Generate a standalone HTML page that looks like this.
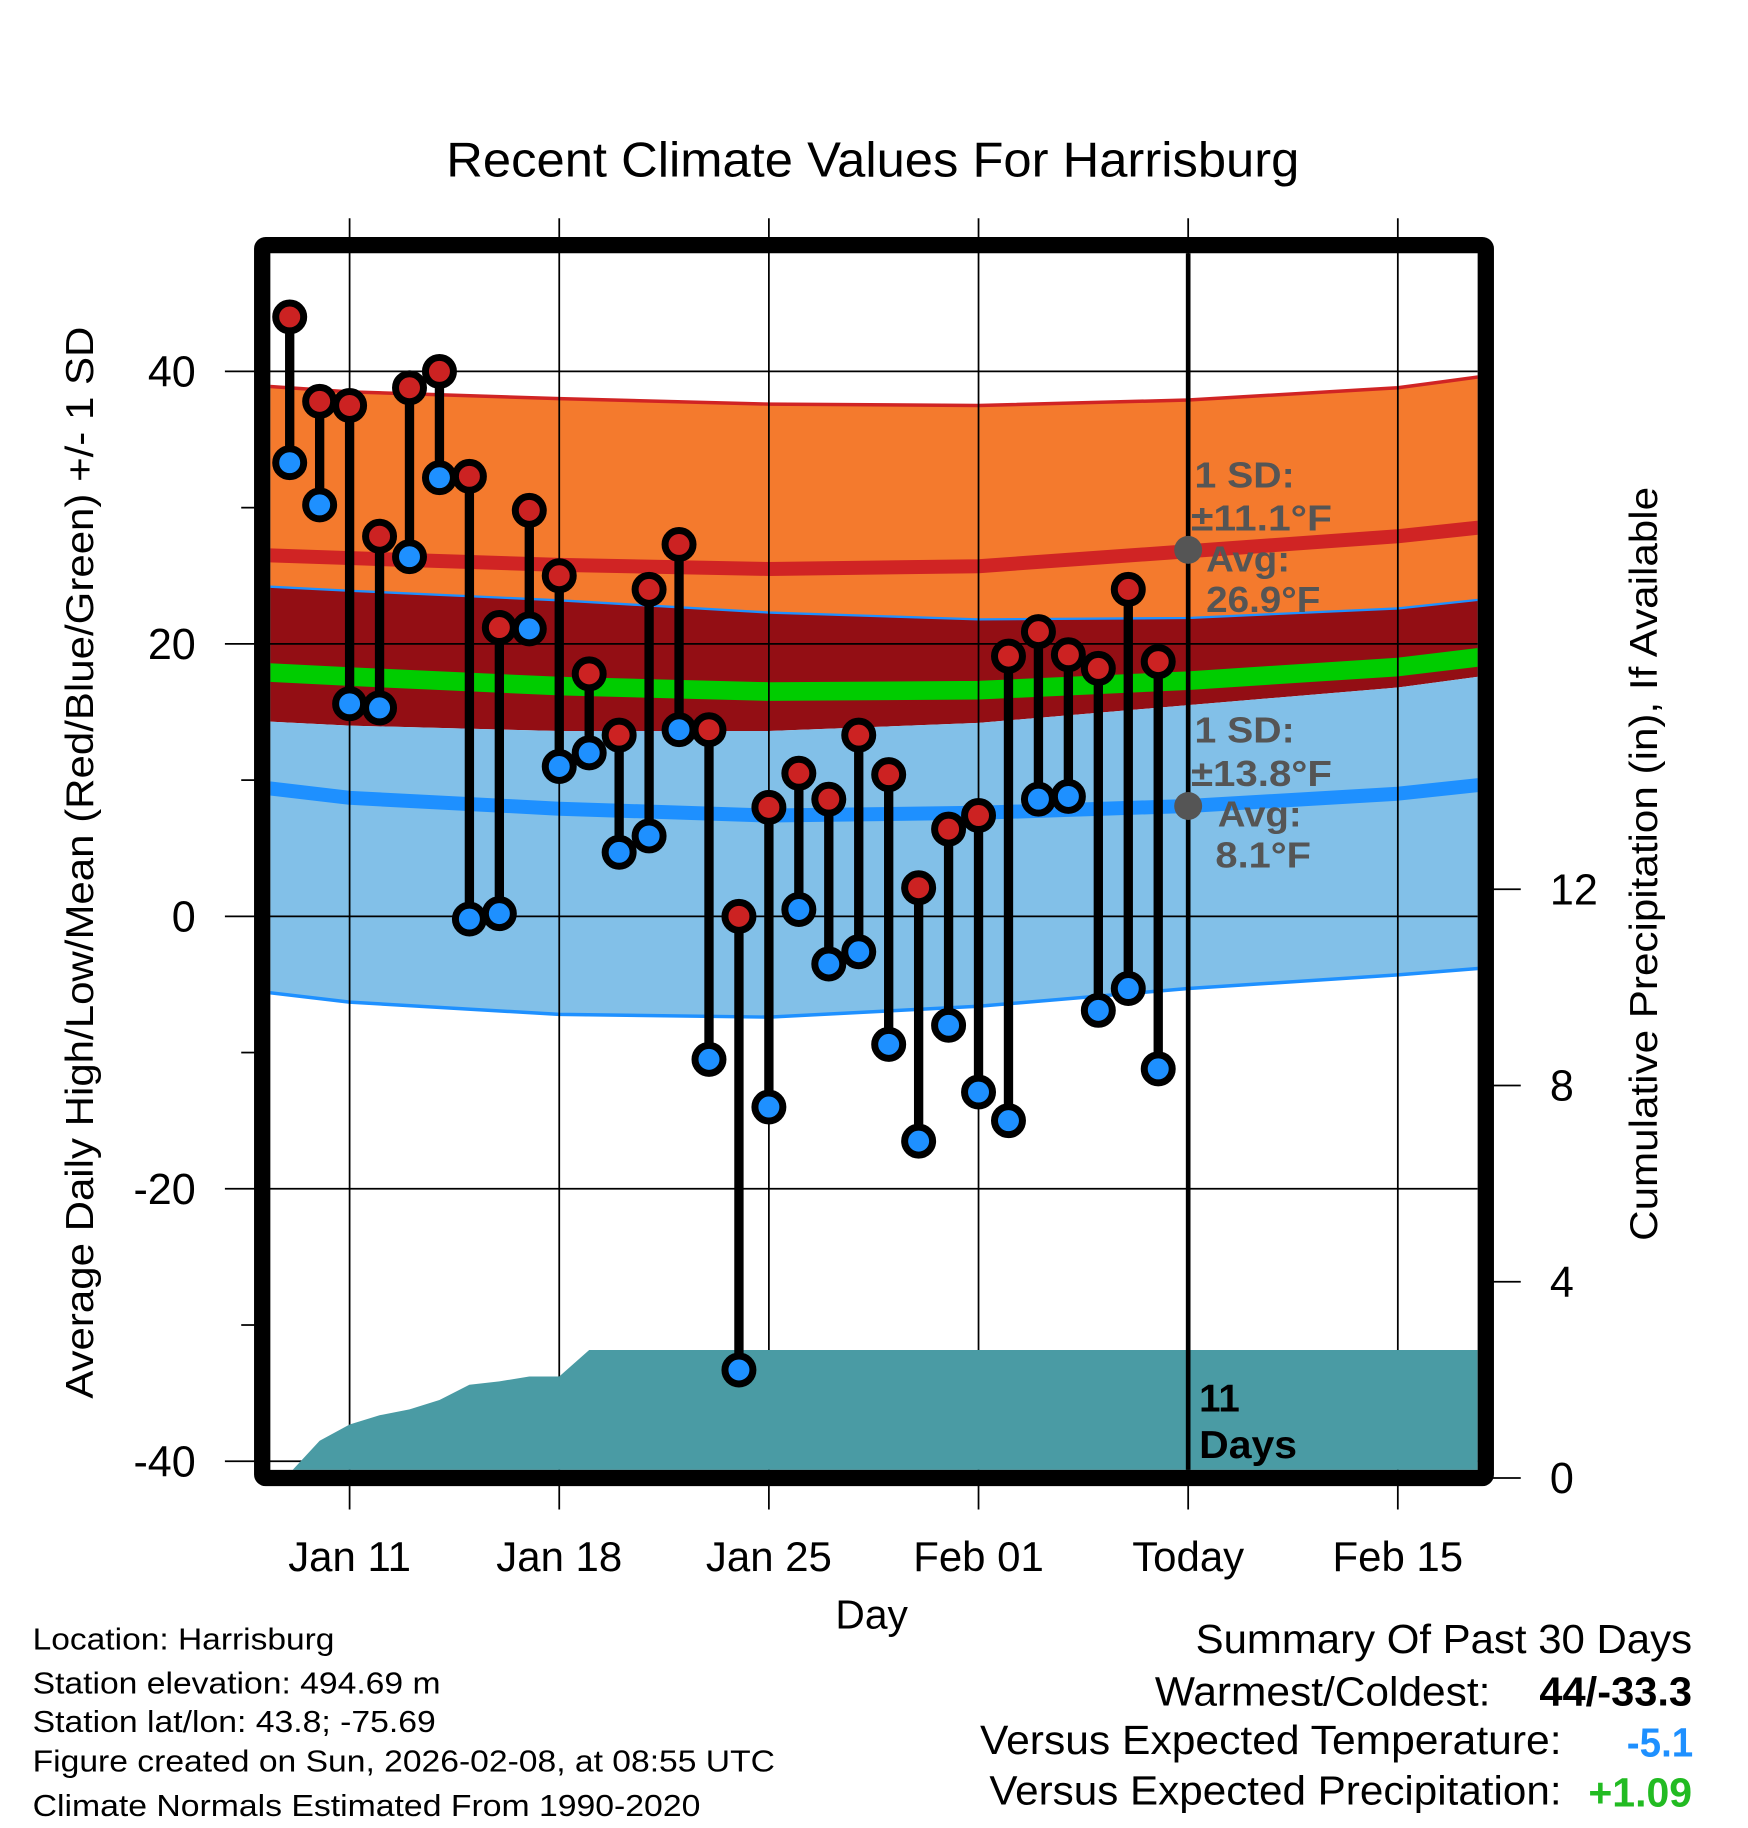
<!DOCTYPE html>
<html><head><meta charset="utf-8"><style>
html,body{margin:0;padding:0;background:#fff}
svg{display:block}
text{font-family:"Liberation Sans",sans-serif}
</style></head><body>
<svg id="chart" width="1748" height="1828" viewBox="0 0 1500 1568" xmlns="http://www.w3.org/2000/svg">
<defs><clipPath id="plotclip"><rect x="232" y="217" width="1036" height="1044"/></clipPath></defs>
<rect width="1500" height="1568" fill="#fff"/>
<text x="749" y="151" font-size="42" text-anchor="middle" textLength="732" lengthAdjust="spacingAndGlyphs">Recent Climate Values For Harrisburg</text>
<g id="bands" clip-path="url(#plotclip)"></g>
<g id="grid"></g>
<g id="precip" clip-path="url(#plotclip)"></g>
<g id="marks"></g>
<g id="frame"></g>
<g id="labels"></g>
<text transform="translate(80,740) rotate(-90)" font-size="33" text-anchor="middle" textLength="920" lengthAdjust="spacingAndGlyphs">Average Daily High/Low/Mean (Red/Blue/Green) +/- 1 SD</text>
<text transform="translate(1422,741) rotate(-90)" font-size="33" text-anchor="middle" textLength="647" lengthAdjust="spacingAndGlyphs">Cumulative Precipitation (in), If Available</text>
<text x="748" y="1397" font-size="35" text-anchor="middle">Day</text>
<g font-size="26">
<text x="28" y="1415" textLength="259" lengthAdjust="spacingAndGlyphs">Location: Harrisburg</text>
<text x="28" y="1453" textLength="350" lengthAdjust="spacingAndGlyphs">Station elevation: 494.69 m</text>
<text x="28" y="1486" textLength="346" lengthAdjust="spacingAndGlyphs">Station lat/lon: 43.8; -75.69</text>
<text x="28" y="1520" textLength="637" lengthAdjust="spacingAndGlyphs">Figure created on Sun, 2026-02-08, at 08:55 UTC</text>
<text x="28" y="1558" textLength="573" lengthAdjust="spacingAndGlyphs">Climate Normals Estimated From 1990-2020</text>
</g>
<g font-size="35">
<text x="1026" y="1418" textLength="426" lengthAdjust="spacingAndGlyphs">Summary Of Past 30 Days</text>
<text x="991" y="1463" textLength="288" lengthAdjust="spacingAndGlyphs">Warmest/Coldest:</text>
<text x="1321" y="1463" font-weight="bold" textLength="131" lengthAdjust="spacingAndGlyphs">44/-33.3</text>
<text x="841" y="1505" textLength="499" lengthAdjust="spacingAndGlyphs">Versus Expected Temperature:</text>
<text x="1396" y="1507" font-weight="bold" fill="#1e90ff" textLength="57" lengthAdjust="spacingAndGlyphs">-5.1</text>
<text x="849" y="1548" textLength="491" lengthAdjust="spacingAndGlyphs">Versus Expected Precipitation:</text>
<text x="1363" y="1550" font-weight="bold" fill="#22bb22" textLength="89" lengthAdjust="spacingAndGlyphs">+1.09</text>
</g>
</svg>
<script>
// ---- data ----
const dayNums = [-2,-1,0,1,2,3,4,5,6,7,8,9,10,11,12,13,14,15,16,17,18,19,20,21,22,23,24,25,26,27];
const highs = [44,37.8,37.5,27.9,38.8,40,32.3,21.2,29.8,25,17.8,13.3,24,27.3,13.7,0,8,10.5,8.6,13.3,10.4,2.1,6.4,7.4,19.1,20.9,19.2,18.2,24,18.7];
const lows = [33.3,30.2,15.6,15.3,26.4,32.2,-0.2,0.2,21.1,11,12,4.7,5.9,13.7,-10.5,-33.3,-14,0.5,-3.5,-2.6,-9.4,-16.5,-8,-12.9,-15,8.6,8.8,-6.9,-5.3,-11.2];
const precip = [0.1,0.76,1.09,1.28,1.4,1.59,1.9,1.97,2.07,2.07,2.61,2.61,2.61,2.61,2.61,2.61,2.61,2.61,2.61,2.61,2.61,2.61,2.61,2.61,2.61,2.61,2.61,2.61,2.61,2.61];
const normDays = [-2.7,0,7,14,21,28,35,38.4];
const highUpper = [38.9,38.5,38.0,37.6,37.5,37.9,38.8,39.8];
const highMean = [26.5,26.3,25.8,25.5,25.7,26.8,27.9,28.7];
const lowUpper = [24.2,23.9,23.2,22.3,21.8,21.9,22.6,23.4];
const meanTemp = [17.9,17.6,16.9,16.5,16.6,17.3,18.3,19.2];
const highLower = [14.3,14.0,13.6,13.6,14.2,15.5,16.8,17.8];
const lowMean = [9.4,8.7,7.9,7.4,7.6,8.1,9.0,9.8];
const lowLower = [-5.6,-6.3,-7.2,-7.4,-6.6,-5.3,-4.3,-3.7];
const yTicks = [40,20,0,-20,-40];
const yMinor = [30,10,-10,-30];
const pTicks = [0,4,8,12];
const xTickDays = [0,7,14,21,28,35];
const xTickLabels = ["Jan 11","Jan 18","Jan 25","Feb 01","Today","Feb 15"];
const todayDay = 28;
const todayHighAvg = 26.9, todayLowAvg = 8.1;

// ---- scales ----
const xs = d => 300 + d*25.7;
const ys = v => 786 - v*11.69;
const yp = p => 1268 - p*42.1;
const NS = "http://www.w3.org/2000/svg";
function mk(tag, parent, attrs){const e=document.createElementNS(NS,tag);for(const k in attrs)e.setAttribute(k,attrs[k]);document.getElementById(parent).appendChild(e);return e;}
function line(arr){return normDays.map((d,i)=>xs(d)+","+ys(arr[i])).join(" ");}
function band(top,bot){return normDays.map((d,i)=>xs(d)+","+ys(top[i])).concat(normDays.slice().reverse().map((d,j)=>{const i=normDays.length-1-j;return xs(d)+","+ys(bot[i]);})).join(" ");}

let e;
e=mk("polygon","bands",{points:band(highUpper,lowUpper),fill:"#f47a2d"});

e=mk("polygon","bands",{points:band(lowUpper,highLower),fill:"#930e14"});

e=mk("polygon","bands",{points:band(highLower,lowLower),fill:"#82c0e8"});

const lines=[[highUpper,"#d02424",3,'high-upper-line'],[highMean,"#d02424",12,'high-mean-line'],[lowUpper,"#1e90ff",2,'low-upper-line'],[meanTemp,"#00cc00",16,'mean-line'],[highLower,"#1e90ff",0,'high-lower-line'],[lowMean,"#1e90ff",12,'low-mean-line'],[lowLower,"#1e90ff",3,'low-lower-line']];
lines.forEach(l=>{if(!l[2])return;e=mk("polyline","bands",{points:line(l[0]),fill:"none",stroke:l[1],"stroke-width":l[2],"stroke-linejoin":"round"});

});

// grid
yTicks.forEach(v=>{e=mk("line","grid",{x1:193,x2:1268,y1:ys(v),y2:ys(v),stroke:"#000","stroke-width":1.5});


e=mk("text","labels",{x:168,y:ys(v)+13,"font-size":37,"text-anchor":"end"});e.textContent=v;

});
yMinor.forEach(v=>{e=mk("line","grid",{x1:207,x2:220,y1:ys(v),y2:ys(v),stroke:"#000","stroke-width":1.5});

});
xTickDays.forEach((d,i)=>{e=mk("line","grid",{x1:xs(d),x2:xs(d),y1:187,y2:1295,stroke:"#000","stroke-width":1.5});


e=mk("text","labels",{x:xs(d),y:1348,"font-size":36,"text-anchor":"middle"});e.textContent=xTickLabels[i];

});
pTicks.forEach(p=>{e=mk("line","grid",{x1:1280,x2:1305,y1:yp(p),y2:yp(p),stroke:"#000","stroke-width":1.5});


e=mk("text","labels",{x:1330,y:yp(p)+13,"font-size":37});e.textContent=p;

});

// precip area
let pts=[xs(dayNums[0])-10+","+1268];
dayNums.forEach((d,i)=>pts.push(xs(d)+","+yp(precip[i])));
pts.push("1268,"+yp(precip[precip.length-1]));pts.push("1268,1268");
e=mk("polygon","precip",{points:pts.join(" "),fill:"#4a9ba4"});



// today line
e=mk("line","marks",{x1:xs(todayDay),x2:xs(todayDay),y1:217,y2:1261,stroke:"#000","stroke-width":4});


e=mk("circle","marks",{cx:xs(todayDay),cy:ys(todayHighAvg),r:12,fill:"#555"});


e=mk("circle","marks",{cx:xs(todayDay),cy:ys(todayLowAvg),r:12,fill:"#555"});



// stems and markers
dayNums.forEach((d,i)=>{e=mk("line","marks",{x1:xs(d),x2:xs(d),y1:ys(highs[i]),y2:ys(lows[i]),stroke:"#000","stroke-width":8});

});
dayNums.forEach((d,i)=>{
e=mk("circle","marks",{cx:xs(d),cy:ys(lows[i]),r:12,fill:"#1e90ff",stroke:"#000","stroke-width":6});


e=mk("circle","marks",{cx:xs(d),cy:ys(highs[i]),r:12,fill:"#cc2222",stroke:"#000","stroke-width":6});

});

// frame
e=mk("rect","frame",{x:225,y:210,width:1050,height:1058,fill:"none",stroke:"#000","stroke-width":14,rx:3});



// annotations
const ann=[[1025,418,"1 SD:",86],[1022,455,"±11.1°F",121],[1035,490,"Avg:",72],[1035,525,"26.9°F",98],[1025,637,"1 SD:",86],[1022,674,"±13.8°F",121],[1045,709,"Avg:",72],[1043,744,"8.1°F",82]];
ann.forEach(a=>{e=mk("text","labels",{x:a[0],y:a[1],"font-size":31,"font-weight":"bold",fill:"#555",textLength:a[3],lengthAdjust:"spacingAndGlyphs"});e.textContent=a[2];

});
e=mk("text","labels",{x:1029,y:1211,"font-size":33,"font-weight":"bold"});e.textContent="11";


e=mk("text","labels",{x:1029,y:1251,"font-size":33,"font-weight":"bold",textLength:84,lengthAdjust:"spacingAndGlyphs"});e.textContent="Days";


</script>
</body></html>
